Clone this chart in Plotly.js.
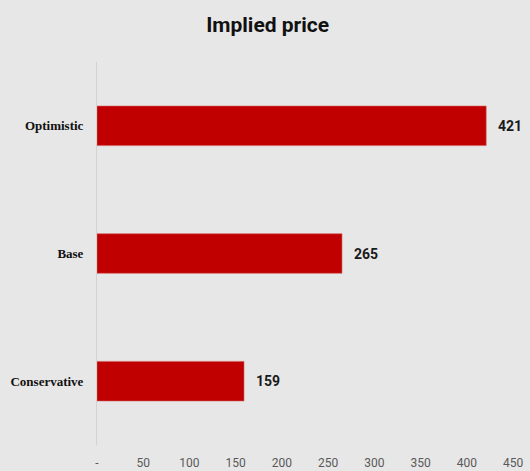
<!DOCTYPE html>
<html>
<head>
<meta charset="utf-8">
<script src="https://cdn.plot.ly/plotly-3.0.1.min.js"></script>
<style>
  html, body { margin: 0; padding: 0; background: #e7e7e7; }
  #chart { width: 530px; height: 471px; }
</style>
</head>
<body>
<div id="chart"></div>
<script>
// Scenario names, bottom to top as drawn on the category axis
const scenarios = ["Conservative", "Base", "Optimistic"];
// Implied price for each scenario
const impliedPrice = [159, 265, 421];
// Value axis ticks; zero is shown as a dash
const tickValues = [0, 50, 100, 150, 200, 250, 300, 350, 400, 450];
const tickLabels = ["-", "50", "100", "150", "200", "250", "300", "350", "400", "450"];

const sans = 'Roboto, "Liberation Sans", sans-serif';

const trace = {
  type: "bar",
  orientation: "h",
  x: impliedPrice,
  y: scenarios,
  width: 0.31,
  marker: { color: "#c00000", line: { color: "#d35a5a", width: 0.6 } },
  cliponaxis: false,
  hoverinfo: "skip"
};

// value labels placed just past the end of each bar
const valueLabels = impliedPrice.map((v, i) => ({
  x: v,
  y: scenarios[i],
  xref: "x",
  yref: "y",
  text: "<b>" + v + "</b>",
  showarrow: false,
  xanchor: "left",
  yanchor: "middle",
  xshift: 10,
  font: { family: sans, size: 14, color: "#1a1a1a" }
}));

const layout = {
  width: 530,
  height: 471,
  paper_bgcolor: "#e7e7e7",
  plot_bgcolor: "#e7e7e7",
  margin: { l: 97, r: 17, t: 62, b: 26, pad: 0 },
  title: {
    text: "<b>Implied price</b>",
    x: 0.505,
    xanchor: "center",
    y: 0.947,
    yanchor: "middle",
    font: { family: sans, size: 21, color: "#111111" }
  },
  xaxis: {
    range: [0, 450],
    tickvals: tickValues,
    ticktext: tickLabels,
    showgrid: false,
    zeroline: false,
    showline: false,
    ticks: "",
    ticklabelstandoff: 9,
    tickfont: { family: sans, size: 12, color: "#595959" },
    fixedrange: true
  },
  yaxis: {
    showgrid: false,
    zeroline: false,
    showline: true,
    linecolor: "#d2d2d2",
    linewidth: 1,
    ticks: "",
    ticklabelstandoff: 10,
    tickfont: { family: '"Liberation Serif", "DejaVu Serif", serif', size: 13, color: "#111111", weight: "bold" },
    fixedrange: true
  },
  annotations: valueLabels,
  showlegend: false,
  bargap: 0.69
};

Plotly.newPlot("chart", [trace], layout, { displayModeBar: false, staticPlot: true });
</script>
</body>
</html>
